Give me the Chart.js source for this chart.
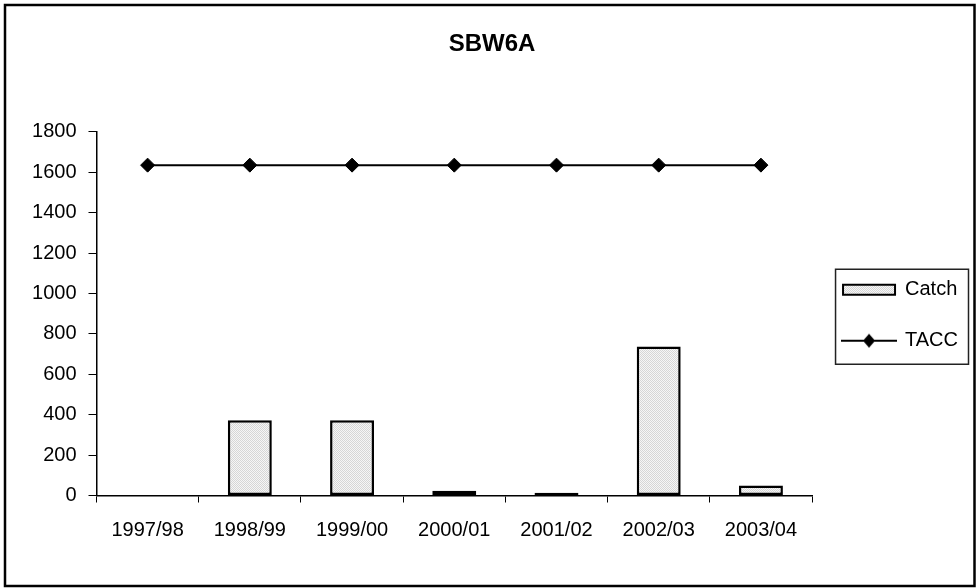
<!DOCTYPE html>
<html>
<head>
<meta charset="utf-8">
<script src="https://cdn.jsdelivr.net/npm/chart.js@4/dist/chart.umd.min.js"></script>
<style>
html, body { margin: 0; padding: 0; background: #fff; }
canvas { display: block; }
</style>
</head>
<body>
<canvas id="c" width="977" height="588"></canvas>
<script>
const chartTitle = 'SBW6A';
const categories = ['1997/98', '1998/99', '1999/00', '2000/01', '2001/02', '2002/03', '2003/04'];
const catchValues = [0, 373, 373, 24, 14, 737, 49];
const taccValues = [1635, 1635, 1635, 1635, 1635, 1635, 1635];
const yTicks = { min: 0, max: 1800, step: 200 };
const seriesNames = ['Catch', 'TACC'];

const FONT = '"Liberation Sans", Arial, sans-serif';

// dotted light-grey fill pattern
function makePattern() {
  const p = document.createElement('canvas');
  p.width = 2; p.height = 2;
  const g = p.getContext('2d');
  g.fillStyle = '#f6f6f6'; g.fillRect(0, 0, 2, 2);
  g.fillStyle = '#d6d6d6'; g.fillRect(0, 0, 1, 1); g.fillRect(1, 1, 1, 1);
  return g.createPattern(p, 'repeat');
}
const pattern = makePattern();

// legend symbol for the TACC line: line with diamond
function makeLineSymbol() {
  const s = document.createElement('canvas');
  s.width = 56; s.height = 16;
  const g = s.getContext('2d');
  g.strokeStyle = '#000'; g.lineWidth = 2;
  g.beginPath(); g.moveTo(0, 8); g.lineTo(56, 8); g.stroke();
  g.fillStyle = '#000';
  g.beginPath(); g.moveTo(28, 1); g.lineTo(34, 8); g.lineTo(28, 15); g.lineTo(22, 8); g.closePath(); g.fill();
  return s;
}
const lineSymbol = makeLineSymbol();

const framePlugin = {
  id: 'frames',
  beforeDraw(chart) {
    const ctx = chart.ctx;
    ctx.save();
    ctx.fillStyle = '#fff';
    ctx.fillRect(0, 0, chart.width, chart.height);
    ctx.restore();
  },
  afterDraw(chart) {
    const ctx = chart.ctx;
    ctx.save();
    ctx.strokeStyle = '#000';
    ctx.lineWidth = 2.5;
    ctx.strokeRect(5, 5, 969.5, 581);
    const hb = chart.legend.legendHitBoxes;
    if (hb && hb.length) {
      const left = Math.min(...hb.map(h => h.left)) - 8;
      const top = Math.min(...hb.map(h => h.top)) - 11;
      const bottom = Math.max(...hb.map(h => h.top + h.height)) + 13;
      const right = chart.legend.right;
      ctx.lineWidth = 1.5;
      ctx.strokeStyle = '#222';
      ctx.strokeRect(left + 0.5, top + 0.5, right - left, bottom - top);
    }
    ctx.restore();
  }
};

new Chart(document.getElementById('c'), {
  type: 'bar',
  data: {
    labels: categories,
    datasets: [
      {
        type: 'bar',
        label: seriesNames[0],
        data: catchValues,
        backgroundColor: pattern,
        borderColor: '#000',
        borderWidth: 2.5,
        borderSkipped: false,
        categoryPercentage: 1.0,
        barPercentage: 0.43,
        order: 2
      },
      {
        type: 'line',
        label: seriesNames[1],
        data: taccValues,
        borderColor: '#000',
        backgroundColor: '#000',
        borderWidth: 2,
        pointStyle: 'rectRot',
        pointRadius: 7,
        pointBorderWidth: 1,
        pointBackgroundColor: '#000',
        pointBorderColor: '#000',
        fill: false,
        tension: 0,
        order: 1
      }
    ]
  },
  options: {
    responsive: false,
    animation: false,
    devicePixelRatio: 1,
    layout: { padding: { left: 16, right: 9, top: 0, bottom: 29.5 } },
    plugins: {
      title: {
        display: true,
        text: chartTitle,
        color: '#000',
        font: { family: FONT, size: 24, weight: 'bold' },
        padding: { top: 30, bottom: 73 }
      },
      legend: {
        display: true,
        position: 'right',
        title: {
          display: true,
          text: ' ',
          font: { family: FONT, size: 20 },
          padding: { top: 0, bottom: 48 }
        },
        labels: {
          color: '#000',
          font: { family: FONT, size: 20 },
          usePointStyle: true,
          pointStyleWidth: 52,
          boxHeight: 10,
          padding: 31,
          sort: (a, b) => a.datasetIndex - b.datasetIndex,
          generateLabels(chart) {
            const items = Chart.defaults.plugins.legend.labels.generateLabels(chart);
            items.forEach(it => {
              if (it.datasetIndex === 0) {
                it.pointStyle = 'rect';
                it.fillStyle = pattern;
                it.strokeStyle = '#000';
                it.lineWidth = 2;
              } else {
                it.pointStyle = lineSymbol;
              }
            });
            return items;
          }
        }
      },
      tooltip: { enabled: false }
    },
    scales: {
      x: {
        offset: true,
        grid: {
          display: true,
          offset: true,
          drawOnChartArea: false,
          drawTicks: true,
          tickLength: 7,
          color: '#000',
          lineWidth: 1
        },
        border: { display: true, color: '#000', width: 1.5 },
        ticks: {
          color: '#000',
          font: { family: FONT, size: 20 },
          padding: 16,
          maxRotation: 0,
          autoSkip: false
        }
      },
      y: {
        min: yTicks.min,
        max: yTicks.max,
        afterFit(scale) { scale.width = 80.5; },
        grid: {
          display: true,
          drawOnChartArea: false,
          drawTicks: true,
          tickLength: 8,
          color: '#000',
          lineWidth: 1
        },
        border: { display: true, color: '#000', width: 1.5 },
        ticks: {
          stepSize: yTicks.step,
          color: '#000',
          font: { family: FONT, size: 20 },
          padding: 12,
          callback: (v) => String(v)
        }
      }
    }
  },
  plugins: [framePlugin]
});
</script>
</body>
</html>
